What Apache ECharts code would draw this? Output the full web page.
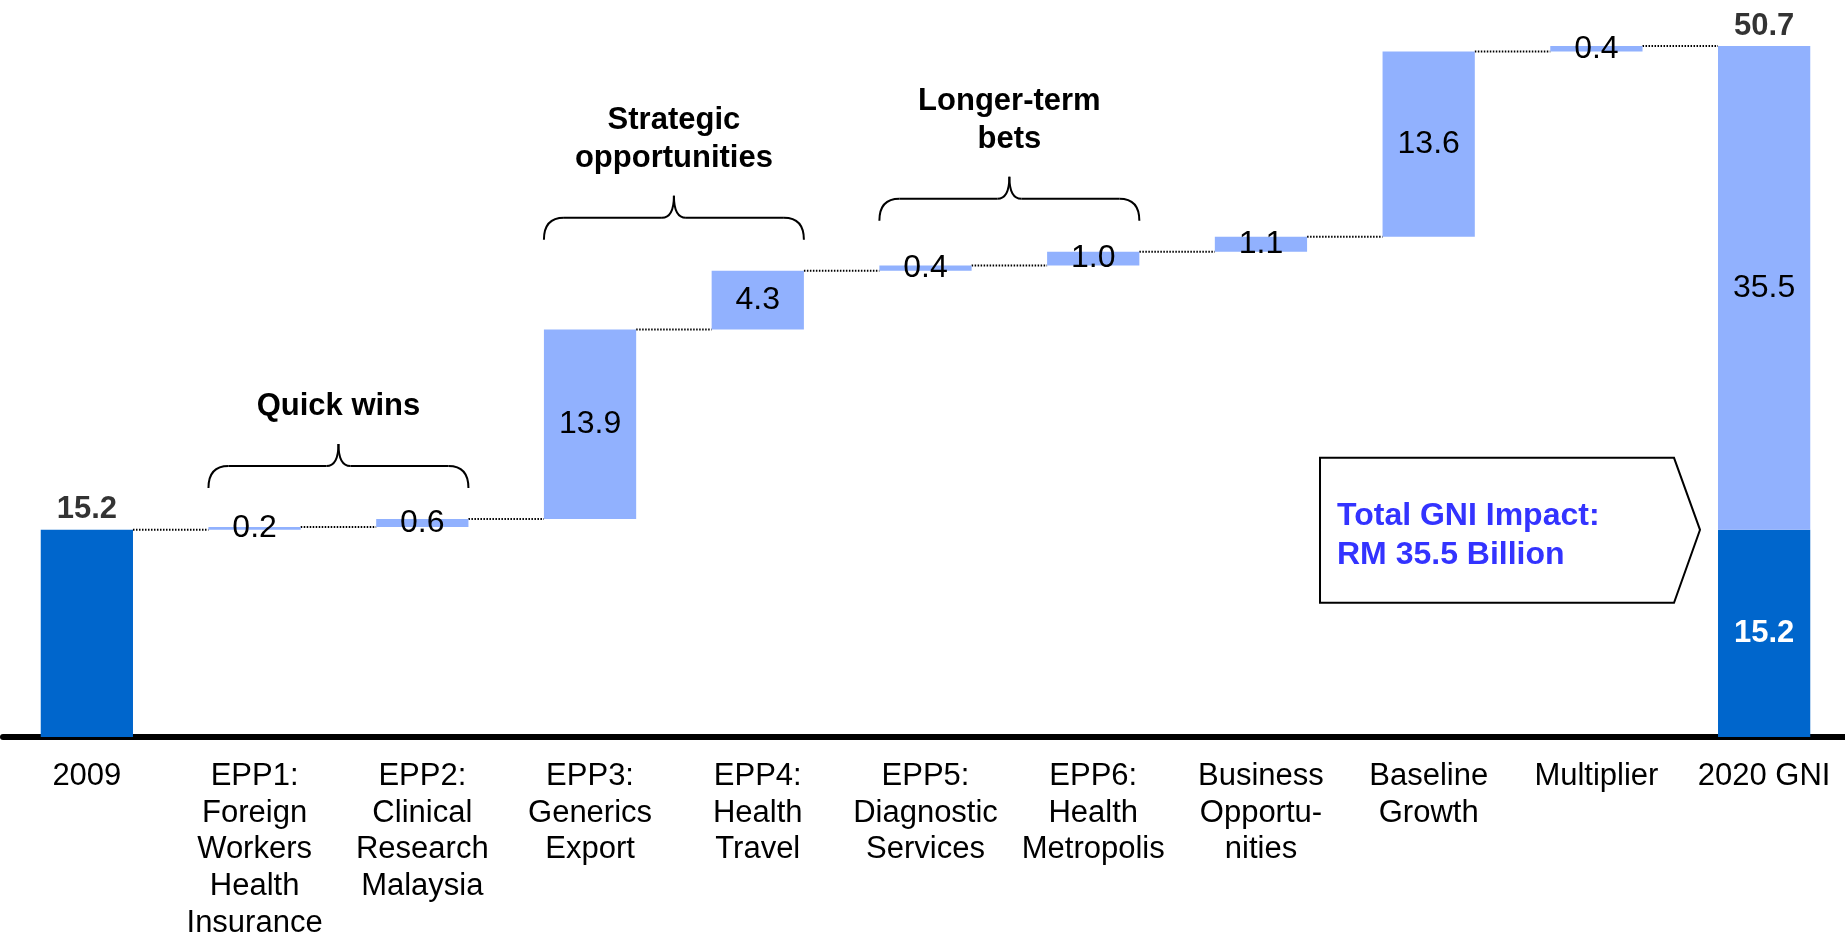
<!DOCTYPE html>
<html>
<head>
<meta charset="utf-8">
<script src="https://cdn.jsdelivr.net/npm/echarts@6/dist/echarts.min.js"></script>
<style>
  html, body { margin: 0; padding: 0; background: #fff; }
  #chart { width: 1845px; height: 938px; }
</style>
</head>
<body>
<div id="chart"></div>
<script>
// categories along the x axis
const categories = [
  '2009',
  'EPP1:\nForeign\nWorkers\nHealth\nInsurance',
  'EPP2:\nClinical\nResearch\nMalaysia',
  'EPP3:\nGenerics\nExport',
  'EPP4:\nHealth\nTravel',
  'EPP5:\nDiagnostic\nServices',
  'EPP6:\nHealth\nMetropolis',
  'Business\nOpportu-\nnities',
  'Baseline\nGrowth',
  'Multiplier',
  '2020 GNI'
];
// GNI 2009 (RM billion)
const startValue = 15.2;
// increments for EPP1 .. Multiplier
const steps = [0.2, 0.6, 13.9, 4.3, 0.4, 1.0, 1.1, 13.6, 0.4];
// 2020 GNI split
const endBase = 15.2;
const endImpact = 35.5;
const endTotal = 50.7;
// brace groups (category index range)
const groupFrom = [1, 3, 5];
const groupTo = [2, 4, 6];
const groupNames = ['Quick wins', 'Strategic\nopportunities', 'Longer-term\nbets'];
const calloutText = 'Total GNI Impact:\nRM 35.5 Billion';

const FONT = '"Liberation Sans", Arial, sans-serif';
const LIGHT = '#91B1FE';
const DARK = '#0066CC';

// running totals
const levels = [startValue];
steps.forEach(s => levels.push(levels[levels.length - 1] + s));
levels.push(endTotal);

const n = categories.length;
const baseData = categories.map((c, i) => (i > 0 && i < n - 1) ? levels[i - 1] : '-');
const darkData = categories.map((c, i) => {
  if (i === 0) return { value: startValue, label: { show: false } };
  if (i === n - 1) return { value: endBase };
  return '-';
});
const lightData = categories.map((c, i) => {
  if (i === 0) return '-';
  if (i === n - 1) return endImpact;
  return steps[i - 1];
});

const chart = echarts.init(document.getElementById('chart'));

chart.setOption({
  animation: false,
  grid: { left: 3, right: -3, top: 1, bottom: 201, outerBoundsMode: 'none' },
  xAxis: {
    type: 'category',
    data: categories,
    axisTick: { show: false },
    axisLine: { lineStyle: { color: '#000', width: 6 } },
    axisLabel: {
      interval: 0,
      margin: 21,
      hideOverlap: false,
      color: '#000',
      fontFamily: FONT,
      fontSize: 31,
      lineHeight: 36.7
    }
  },
  yAxis: { type: 'value', min: 0, max: 54, show: false },
  series: [
    {
      name: 'base',
      type: 'bar',
      stack: 'w',
      barCategoryGap: '45%',
      itemStyle: { color: 'transparent' },
      emphasis: { disabled: true },
      data: baseData
    },
    {
      name: 'dark',
      type: 'bar',
      stack: 'w',
      barCategoryGap: '45%',
      itemStyle: { color: DARK },
      emphasis: { disabled: true },
      label: {
        show: true,
        position: 'inside',
        color: '#fff',
        fontWeight: 'bold',
        fontFamily: FONT,
        fontSize: 31,
        formatter: p => p.value.toFixed(1)
      },
      data: darkData
    },
    {
      name: 'light',
      type: 'bar',
      stack: 'w',
      barCategoryGap: '45%',
      itemStyle: { color: LIGHT },
      emphasis: { disabled: true },
      label: {
        show: true,
        position: 'inside',
        color: '#000',
        fontFamily: FONT,
        fontSize: 32,
        formatter: p => p.value.toFixed(1)
      },
      data: lightData
    },
    {
      // dotted connectors between bars
      name: 'connectors',
      type: 'custom',
      z: 1,
      silent: true,
      renderItem: (params, api) => {
        const i = api.value(0), v = api.value(1);
        const p0 = api.coord([i, v]);
        const p1 = api.coord([i + 1, v]);
        const half = api.size([1, 0])[0] * 0.275;
        return {
          type: 'line',
          shape: { x1: p0[0] + half, y1: p0[1], x2: p1[0] - half, y2: p1[1] },
          style: { stroke: '#000', lineWidth: 2, lineDash: [1.5, 1.5] }
        };
      },
      data: levels.slice(0, n - 1).map((v, i) => [i, v])
    },
    {
      // bold totals on top of the first and last bar
      name: 'totals',
      type: 'scatter',
      symbolSize: 1,
      itemStyle: { color: 'transparent' },
      silent: true,
      label: {
        show: true,
        position: 'top',
        distance: 4,
        color: '#000',
        fontWeight: 'bold',
        fontFamily: FONT,
        fontSize: 31,
        formatter: p => p.value[1].toFixed(1)
      },
      data: [[0, startValue], [n - 1, endTotal]]
    }
  ]
});

// annotations: braces, group titles, callout
function px(i, v) {
  return chart.convertToPixel({ gridIndex: 0 }, [i, v]);
}
const band = px(1, 0)[0] - px(0, 0)[0];
const halfBar = band * 0.275;
const graphics = [];
const braceStyle = { fill: null, stroke: '#000', lineWidth: 2 };

function curve(x1, y1, cx, cy, x2, y2) {
  graphics.push({ type: 'bezierCurve', shape: { x1, y1, x2, y2, cpx1: cx, cpy1: cy }, style: braceStyle });
}
function seg(x1, y1, x2, y2) {
  graphics.push({ type: 'line', shape: { x1, y1, x2, y2 }, style: braceStyle });
}

groupNames.forEach((name, g) => {
  const a = groupFrom[g], b = groupTo[g];
  const x0 = px(a, 0)[0] - halfBar;
  const x1 = px(b, 0)[0] + halfBar;
  const xc = (x0 + x1) / 2;
  let topY = Infinity;
  for (let i = a; i <= b; i++) topY = Math.min(topY, px(i, levels[i])[1]);
  const yb = topY - 31, ym = yb - 22, yt = yb - 44;
  const r = 20, rc = 12;
  curve(x0, yb, x0, ym, x0 + r, ym);
  seg(x0 + r, ym, xc - rc, ym);
  curve(xc - rc, ym, xc, ym, xc, yt);
  curve(xc, yt, xc, ym, xc + rc, ym);
  seg(xc + rc, ym, x1 - r, ym);
  curve(x1 - r, ym, x1, ym, x1, yb);
  graphics.push({
    type: 'text',
    x: xc,
    y: yt - 19,
    style: {
      text: name,
      font: `bold 31px ${FONT}`,
      fill: '#000',
      align: 'center',
      verticalAlign: 'bottom',
      lineHeight: 37.5
    }
  });
});

// callout arrow pointing at the 2020 GNI base
const tipX = px(n - 1, 0)[0] - halfBar - 18;
const tipY = px(n - 1, endBase)[1];
const rectR = tipX - 26, rectL = tipX - 380;
graphics.push({
  type: 'polygon',
  shape: { points: [[rectL, tipY - 72], [rectR, tipY - 72], [tipX, tipY], [rectR, tipY + 73], [rectL, tipY + 73]] },
  style: { fill: '#fff', stroke: '#000', lineWidth: 2 }
});
graphics.push({
  type: 'text',
  x: rectL + 17,
  y: tipY - 33,
  style: {
    text: calloutText,
    font: `bold 32px ${FONT}`,
    fill: '#3333FF',
    align: 'left',
    verticalAlign: 'top',
    lineHeight: 39
  }
});

chart.setOption({ graphic: graphics });
</script>
</body>
</html>
